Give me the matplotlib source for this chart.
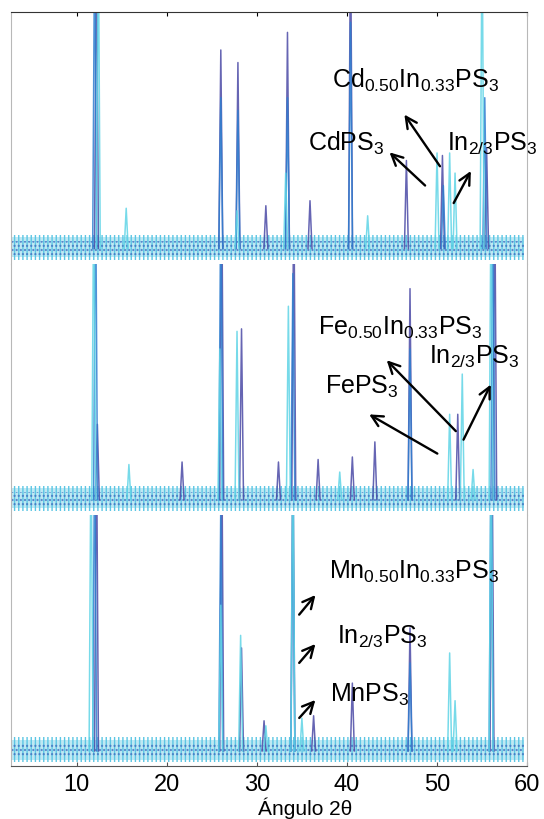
import numpy as np
import matplotlib
matplotlib.use("Agg")
import matplotlib.pyplot as plt

plt.rcParams['font.family'] = ['Liberation Sans', 'DejaVu Sans']
plt.rcParams['mathtext.fontset'] = 'custom'
plt.rcParams['mathtext.rm'] = 'Liberation Sans'
plt.rcParams['mathtext.default'] = 'regular'
plt.rcParams['hatch.linewidth'] = 1.0

# peak lists (2theta, intensity) for each sample, three scans per panel
# intensities above 100 run off the top of the panel
cd_dark = [(12.2, 130), (26.0, 79), (27.9, 74), (31.0, 17), (33.4, 86), (35.9, 19),
           (40.4, 130), (46.6, 35), (50.6, 37), (55.5, 40)]
cd_blue = [(12.0, 130), (26.0, 60), (27.9, 55), (33.4, 60), (40.4, 90), (50.7, 25), (55.3, 60)]
cd_cyan = [(12.4, 130), (15.5, 16), (27.8, 15), (33.2, 30), (42.3, 13), (50.0, 38),
           (51.4, 38), (52.0, 30), (55.0, 130)]

fe_dark = [(12.3, 30), (21.7, 15), (26.1, 130), (28.3, 68), (32.4, 15), (34.1, 130),
           (36.8, 16), (40.6, 17), (43.1, 23), (47.0, 84), (52.3, 34), (56.4, 130)]
fe_blue = [(12.1, 130), (26.0, 130), (34.0, 90), (47.0, 60), (56.2, 130)]
fe_cyan = [(11.9, 130), (15.8, 14), (25.9, 60), (27.8, 67), (33.5, 77), (39.2, 11),
           (51.4, 34), (52.8, 50), (54.0, 12), (56.0, 130)]

mn_dark = [(12.2, 130), (26.1, 130), (28.3, 41), (30.8, 12), (34.0, 130), (36.3, 14),
           (40.6, 27), (47.0, 49), (56.1, 130)]
mn_blue = [(12.0, 130), (26.0, 100), (34.0, 100), (47.0, 35), (56.0, 130)]
mn_cyan = [(11.6, 130), (26.0, 58), (28.2, 46), (31.0, 10), (34.0, 130), (35.0, 13),
           (51.4, 39), (52.0, 20), (56.0, 130)]

# background noise band and baseline level (same units as peaks)
bg_lo, bg_hi, base = 1.5, 11.5, 6.0

x_ticks = [10, 20, 30, 40, 50, 60]
x_range = (2.7, 59.7)

labels = [
    [(r'Cd$_{0.50}$In$_{0.33}$PS$_3$', 47.6, 72.9), (r'CdPS$_3$', 39.9, 47.8),
     (r'In$_{2/3}$PS$_3$', 56.1, 47.8)],
    [(r'Fe$_{0.50}$In$_{0.33}$PS$_3$', 45.9, 74.2), (r'In$_{2/3}$PS$_3$', 54.1, 62.7),
     (r'FePS$_3$', 41.7, 50.8)],
    [(r'Mn$_{0.50}$In$_{0.33}$PS$_3$', 47.4, 77.3), (r'In$_{2/3}$PS$_3$', 43.9, 51.4),
     (r'MnPS$_3$', 42.5, 28.3)],
]
# arrows: (tail_x, tail_y, head_x, head_y)
arrows = [
    [(50.5, 37.8, 46.2, 60.2), (48.9, 30.3, 44.5, 45.0), (51.7, 23.1, 53.9, 37.8)],
    [(52.3, 32.5, 44.2, 62.3), (50.3, 23.8, 42.2, 40.5), (52.8, 28.9, 56.1, 52.8)],
    [(34.5, 59.4, 36.7, 68.9), (34.5, 40.2, 36.7, 49.4), (34.5, 18.3, 36.7, 27.1)],
]

panels = [(cd_dark, cd_blue, cd_cyan), (fe_dark, fe_blue, fe_cyan), (mn_dark, mn_blue, mn_cyan)]
colors = ['#4b4aa6', '#2f7fd0', '#5fd4e6']


def spikes(peaks, hw=0.22):
    # one narrow spike per peak, separated by NaN so the baseline isn't drawn
    xs, ys = [], []
    for pos, h in sorted(peaks):
        xs += [pos - hw, pos, pos + hw, np.nan]
        ys += [base, base + h, base, np.nan]
    return xs, ys


fig = plt.figure(figsize=(5.44, 8.19), dpi=100)
gs = fig.add_gridspec(3, 1, left=0.020, right=0.969, top=0.985, bottom=0.0647, hspace=0)

for i, traces in enumerate(panels):
    ax = fig.add_subplot(gs[i])
    ax.fill_between(x_range, bg_lo + 1, bg_hi - 1, facecolor='#bfe8f3', edgecolor='none',
                    linewidth=0, zorder=1)
    ax.fill_between(x_range, bg_lo, bg_hi, facecolor='none', edgecolor='#5cc6e4',
                    hatch='||||', linewidth=0, zorder=1)
    ax.fill_between(x_range, bg_lo + 2, bg_hi - 2.5, facecolor='none', edgecolor='#3f6fc0',
                    hatch='....', linewidth=0, alpha=0.8, zorder=1)
    for peaks, c in zip(traces, colors):
        xs, ys = spikes(peaks)
        ax.plot(xs, ys, color=c, lw=1.1, alpha=0.85, zorder=2)
    ax.set_xlim(*x_range)
    ax.set_ylim(0, 100)
    ax.set_yticks([])
    for s in ('left', 'right'):
        ax.spines[s].set_color('#b8b8b8')
        ax.spines[s].set_linewidth(0.8)
    ax.spines['top'].set_visible(i == 0)
    ax.spines['bottom'].set_visible(i == 2)
    ax.spines['top'].set_color('#333333')
    ax.spines['bottom'].set_color('#555555')
    ax.set_xticks(x_ticks)
    if i == 0:
        ax.tick_params(axis='x', which='both', top=True, bottom=False, direction='in',
                       labelbottom=False, length=3)
    elif i == 1:
        ax.tick_params(axis='x', bottom=False, labelbottom=False)
    else:
        ax.tick_params(axis='x', direction='in', length=3, labelsize=17, pad=6,
                       colors='#555555', labelcolor='black')

    for txt, tx, ty in labels[i]:
        ax.text(tx, ty, txt, fontsize=18, ha='center', va='center', clip_on=False, zorder=4)
    for x0, y0, x1, y1 in arrows[i]:
        ax.annotate('', xy=(x1, y1), xytext=(x0, y0),
                    arrowprops=dict(arrowstyle='->', lw=1.7, color='black', mutation_scale=20),
                    zorder=4)

fig.text(305 / 544, 1 - 815 / 819, 'Ángulo 2θ', fontsize=15, ha='center', va='baseline')

fig.savefig('out.png', dpi=100)
